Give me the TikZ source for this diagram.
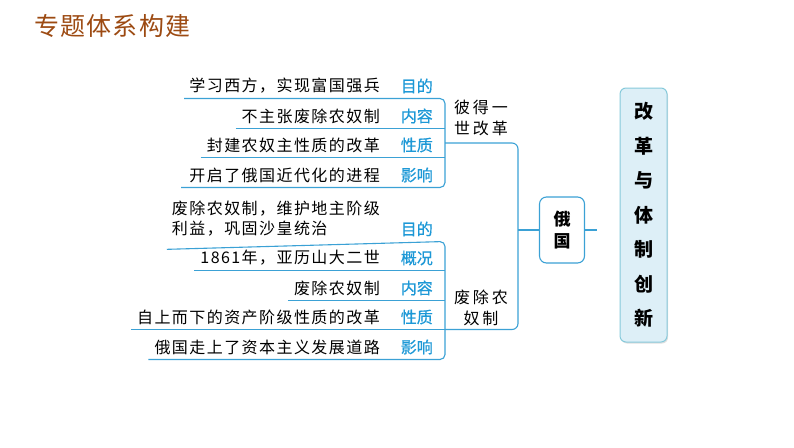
\documentclass[tikz,border=0pt]{standalone}
\usepackage{fontspec}
\setmainfont{Noto Sans CJK SC}
\newfontfamily\rowfont[LetterSpace=9]{Noto Sans CJK SC}
\newfontfamily\branchfont[LetterSpace=18]{Noto Sans CJK SC}
\newfontfamily\headfont[LetterSpace=5]{Noto Sans CJK SC}
\newfontfamily\labfont[FakeBold=0.6]{Noto Sans CJK SC}
\usetikzlibrary{shadows}
\definecolor{lineblue}{HTML}{3BA1D5}
\definecolor{labblue}{HTML}{1D98D6}
\definecolor{titlebrown}{HTML}{9C4A12}
\definecolor{boxfill}{HTML}{DDEFF7}
\definecolor{boxline}{HTML}{86CADB}
\tikzset{
  txt/.style={anchor=east,inner sep=0pt,align=left,font=\rowfont\fontsize{16}{20}\selectfont},
  lab/.style={anchor=east,inner sep=0pt,text=labblue,font=\labfont\fontsize{16}{20}\selectfont},
  ul/.style={lineblue,line width=1.1pt},
  branch/.style={inner sep=0pt,align=center,font=\branchfont\fontsize{16}{21}\selectfont},
}
\begin{document}
\begin{tikzpicture}[x=1pt,y=-1pt]
  \useasboundingbox (0,0) rectangle (794,447);
  \node[anchor=west,inner sep=0pt,text=titlebrown,font=\headfont\fontsize{25}{28}\selectfont] (title) at (34,26) {专题体系构建};

  % upper group
  \foreach \n/\y/\t/\l in {a1/86/学习西方，实现富国强兵/目的, a2/116/不主张废除农奴制/内容,
      a3/145/封建农奴主性质的改革/性质, a4/175/开启了俄国近代化的进程/影响}{
    \node[txt] (\n) at (380,\y) {\t};
    \node[lab] (\n l) at (433,\y) {\l};
  }
  % lower group
  \node[txt] (b1) at (380,219) {废除农奴制，维护地主阶级\\利益，巩固沙皇统治};
  \node[lab] (b1l) at (433,229) {目的};
  \foreach \n/\y/\t/\l in {b2/258/1861年，亚历山大二世/概况, b3/288/废除农奴制/内容,
      b4/317/自上而下的资产阶级性质的改革/性质, b5/347/俄国走上了资本主义发展道路/影响}{
    \node[txt] (\n) at (380,\y) {\t};
    \node[lab] (\n l) at (433,\y) {\l};
  }

  \draw[ul,rounded corners=5pt] ([xshift=-5pt,yshift=-12.5pt]a1.west) -- ([xshift=12pt,yshift=-12.5pt]a1l.east)
    -- ([xshift=12pt,yshift=-12.5pt]a4l.east) -- ([xshift=-8pt,yshift=-12.5pt]a4.west);
  \foreach \n in {a2,a3}
    \draw[ul] ([xshift=-6pt,yshift=-12.5pt]\n.west) -- ([xshift=12pt,yshift=-12.5pt]\n l.east);

  \draw[ul,rounded corners=5pt] ([xshift=-5pt,yshift=-12.5pt]b1.south west) -- ([xshift=12pt,yshift=-12.5pt]b1l.east)
    -- ([xshift=12pt,yshift=-12.5pt]b5l.east) -- ([xshift=-6pt,yshift=-12.5pt]b5.west);
  \foreach \n in {b2,b3,b4}
    \draw[ul] ([xshift=-6pt,yshift=-12.5pt]\n.west) -- ([xshift=12pt,yshift=-12.5pt]\n l.east);

  \node[branch] (peter) at (481,118) {彼得一\\世改革};
  \node[branch] (serf) at (481,308) {废除农\\奴制};

  \node[draw=lineblue,line width=1.1pt,rounded corners=7pt,fill=white,minimum width=45pt,minimum height=66pt,
    align=center,font=\bfseries\fontsize{17}{22}\selectfont] (russia) at (562,230) {俄\\国};
  \node[draw=boxline,line width=1pt,fill=boxfill,rounded corners=6pt,minimum width=47pt,minimum height=254pt,
    align=center,font=\bfseries\fontsize{19}{34.5}\selectfont,
    drop shadow={shadow xshift=1pt,shadow yshift=-1.5pt,opacity=.25}] (reform) at (643.5,215)
    {改\\革\\与\\体\\制\\创\\新};

  \coordinate (pa) at (445,143);
  \coordinate (jn) at (518,230);
  \coordinate (pb) at ([xshift=12pt,yshift=-12.5pt]b4l.east);
  \coordinate (stub) at (597,230);
  \draw[ul,rounded corners=6pt] (pa) -| (jn) |- (pb);
  \draw[ul] (jn) -- (russia);
  \draw[ul] (russia) -- (stub);
\end{tikzpicture}
\end{document}
